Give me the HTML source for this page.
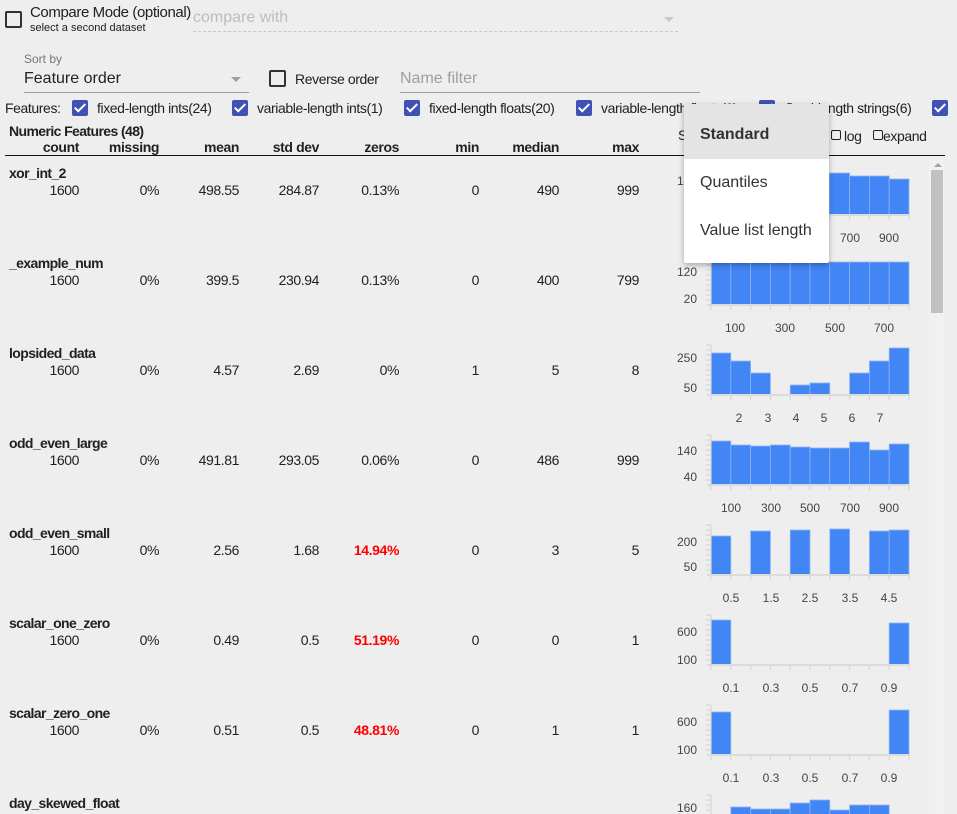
<!DOCTYPE html>
<html><head><meta charset="utf-8"><style>
body{margin:0;width:957px;height:814px;background:#eeeeee;overflow:hidden;position:relative;font-family:"Liberation Sans",sans-serif;color:#212121}
.a{position:absolute;white-space:nowrap}
.cb{position:absolute;width:16px;height:16px;border-radius:2px;background:#3f51b5}
.cb:after{content:"";position:absolute;left:5px;top:1px;width:4px;height:9px;border:solid #fff;border-width:0 2px 2px 0;transform:rotate(45deg)}
.ub{position:absolute;width:13px;height:13px;border:2px solid #333;border-radius:2px}
.f{font-size:14px;letter-spacing:-0.4px}
.h{font-size:14px;font-weight:bold;letter-spacing:-0.6px}
.v{position:absolute;font-size:14px;letter-spacing:-0.4px;text-align:right;width:70px;margin-top:1px}
.red{color:#f00;font-weight:bold}
</style></head><body>
<div class="ub" style="left:5px;top:11px"></div>
<div class="a" style="left:30px;top:4px;font-size:15px;letter-spacing:-0.4px">Compare Mode (optional)</div>
<div class="a" style="left:30px;top:22px;font-size:11px">select a second dataset</div>
<div class="a" style="left:193px;top:9px;font-size:16px;color:#bdbdbd">compare with</div>
<div class="a" style="left:193px;top:31px;width:485px;border-top:1px dashed #c8c8c8"></div>
<div class="a" style="left:664px;top:17px;border:5px solid transparent;border-top-color:#c8c8c8"></div>
<div class="a" style="left:24px;top:52px;font-size:12px;color:#757575">Sort by</div>
<div class="a" style="left:24px;top:70px;font-size:16px">Feature order</div>
<div class="a" style="left:24px;top:92px;width:225px;border-top:1px solid #9e9e9e"></div>
<div class="a" style="left:231px;top:77px;border:5px solid transparent;border-top-color:#9e9e9e"></div>
<div class="ub" style="left:269px;top:70px"></div>
<div class="a f" style="left:295px;top:71px">Reverse order</div>
<div class="a" style="left:400px;top:70px;font-size:16px;color:#9e9e9e">Name filter</div>
<div class="a" style="left:400px;top:92px;width:300px;border-top:1px solid #9e9e9e"></div>
<div class="a f" style="left:5px;top:100px">Features:</div>
<div class="cb" style="left:72px;top:100px"></div><div class="a f" style="left:97px;top:100px">fixed-length ints(24)</div>
<div class="cb" style="left:232px;top:100px"></div><div class="a f" style="left:257px;top:100px">variable-length ints(1)</div>
<div class="cb" style="left:404px;top:100px"></div><div class="a f" style="left:429px;top:100px">fixed-length floats(20)</div>
<div class="cb" style="left:576px;top:100px"></div><div class="a f" style="left:601px;top:100px">variable-length floats(3)</div>
<div class="cb" style="left:759px;top:100px"></div><div class="a f" style="left:786px;top:100px">fixed-length strings(6)</div>
<div class="cb" style="left:932px;top:100px"></div>
<div class="a h" style="left:9px;top:123px">Numeric Features (48)</div>
<div class="v h" style="left:9px;top:138px">count</div>
<div class="v h" style="left:89px;top:138px">missing</div>
<div class="v h" style="left:169px;top:138px">mean</div>
<div class="v h" style="left:249px;top:138px">std dev</div>
<div class="v h" style="left:329px;top:138px">zeros</div>
<div class="v h" style="left:409px;top:138px">min</div>
<div class="v h" style="left:489px;top:138px">median</div>
<div class="v h" style="left:569px;top:138px">max</div>
<div class="a f" style="left:678px;top:127px">S</div>
<div class="a" style="left:831px;top:130px;width:8px;height:8px;border:1.5px solid #222;border-radius:2px"></div>
<div class="a f" style="left:844px;top:128px">log</div>
<div class="a" style="left:873px;top:130px;width:8px;height:8px;border:1.5px solid #222;border-radius:2px"></div>
<div class="a f" style="left:883px;top:128px">expand</div>
<div class="a" style="left:5px;top:155px;width:940px;border-top:1.5px solid #111"></div>

<div class="a h" style="left:9px;top:165px">xor_int_2</div>
<div class="v" style="left:9px;top:181px">1600</div><div class="v" style="left:89px;top:181px">0%</div><div class="v" style="left:169px;top:181px">498.55</div><div class="v" style="left:249px;top:181px">284.87</div><div class="v" style="left:329px;top:181px">0.13%</div><div class="v" style="left:409px;top:181px">0</div><div class="v" style="left:489px;top:181px">490</div><div class="v" style="left:569px;top:181px">999</div>
<div class="a h" style="left:9px;top:255px">_example_num</div>
<div class="v" style="left:9px;top:271px">1600</div><div class="v" style="left:89px;top:271px">0%</div><div class="v" style="left:169px;top:271px">399.5</div><div class="v" style="left:249px;top:271px">230.94</div><div class="v" style="left:329px;top:271px">0.13%</div><div class="v" style="left:409px;top:271px">0</div><div class="v" style="left:489px;top:271px">400</div><div class="v" style="left:569px;top:271px">799</div>
<div class="a h" style="left:9px;top:345px">lopsided_data</div>
<div class="v" style="left:9px;top:361px">1600</div><div class="v" style="left:89px;top:361px">0%</div><div class="v" style="left:169px;top:361px">4.57</div><div class="v" style="left:249px;top:361px">2.69</div><div class="v" style="left:329px;top:361px">0%</div><div class="v" style="left:409px;top:361px">1</div><div class="v" style="left:489px;top:361px">5</div><div class="v" style="left:569px;top:361px">8</div>
<div class="a h" style="left:9px;top:435px">odd_even_large</div>
<div class="v" style="left:9px;top:451px">1600</div><div class="v" style="left:89px;top:451px">0%</div><div class="v" style="left:169px;top:451px">491.81</div><div class="v" style="left:249px;top:451px">293.05</div><div class="v" style="left:329px;top:451px">0.06%</div><div class="v" style="left:409px;top:451px">0</div><div class="v" style="left:489px;top:451px">486</div><div class="v" style="left:569px;top:451px">999</div>
<div class="a h" style="left:9px;top:525px">odd_even_small</div>
<div class="v" style="left:9px;top:541px">1600</div><div class="v" style="left:89px;top:541px">0%</div><div class="v" style="left:169px;top:541px">2.56</div><div class="v" style="left:249px;top:541px">1.68</div><div class="v red" style="left:329px;top:541px">14.94%</div><div class="v" style="left:409px;top:541px">0</div><div class="v" style="left:489px;top:541px">3</div><div class="v" style="left:569px;top:541px">5</div>
<div class="a h" style="left:9px;top:615px">scalar_one_zero</div>
<div class="v" style="left:9px;top:631px">1600</div><div class="v" style="left:89px;top:631px">0%</div><div class="v" style="left:169px;top:631px">0.49</div><div class="v" style="left:249px;top:631px">0.5</div><div class="v red" style="left:329px;top:631px">51.19%</div><div class="v" style="left:409px;top:631px">0</div><div class="v" style="left:489px;top:631px">0</div><div class="v" style="left:569px;top:631px">1</div>
<div class="a h" style="left:9px;top:705px">scalar_zero_one</div>
<div class="v" style="left:9px;top:721px">1600</div><div class="v" style="left:89px;top:721px">0%</div><div class="v" style="left:169px;top:721px">0.51</div><div class="v" style="left:249px;top:721px">0.5</div><div class="v red" style="left:329px;top:721px">48.81%</div><div class="v" style="left:409px;top:721px">0</div><div class="v" style="left:489px;top:721px">1</div><div class="v" style="left:569px;top:721px">1</div>
<div class="a h" style="left:9px;top:795px">day_skewed_float</div>

<svg class="a" style="left:0;top:0" width="957" height="814" font-family="Liberation Sans, sans-serif" font-size="12" fill="#444">
<defs>
<g id="ax">
<path d="M707 0H910" stroke="#dcdcdc" stroke-width="2"/>
<path d="M711 0V-50M706 -50H711M706 -45H711M706 -40H711M706 -35H711M706 -30H711M706 -25H711M706 -20H711M706 -15H711M706 -10H711M706 -5H711M711 0V5M730.8 0V5M750.6 0V5M770.4 0V5M790.2 0V5M810 0V5M829.8 0V5M849.6 0V5M869.4 0V5M889.2 0V5M909 0V5" stroke="#d6d6d6" stroke-width="1.2" fill="none"/>
</g>
</defs>
<g fill="#4285f4" stroke="#8fb4f5" stroke-width="0.8">
<rect x="711" y="174" width="19.8" height="41"/><rect x="730.8" y="175" width="19.8" height="40"/><rect x="750.6" y="176" width="19.8" height="39"/><rect x="770.4" y="175" width="19.8" height="40"/><rect x="790.2" y="176" width="19.8" height="39"/><rect x="810" y="174" width="19.8" height="41"/><rect x="829.8" y="173" width="19.8" height="42"/><rect x="849.6" y="176" width="19.8" height="39"/><rect x="869.4" y="176" width="19.8" height="39"/><rect x="889.2" y="179" width="19.8" height="36"/>
<rect x="711" y="262" width="19.8" height="43"/><rect x="730.8" y="262" width="19.8" height="43"/><rect x="750.6" y="262" width="19.8" height="43"/><rect x="770.4" y="262" width="19.8" height="43"/><rect x="790.2" y="262" width="19.8" height="43"/><rect x="810" y="262" width="19.8" height="43"/><rect x="829.8" y="262" width="19.8" height="43"/><rect x="849.6" y="262" width="19.8" height="43"/><rect x="869.4" y="262" width="19.8" height="43"/><rect x="889.2" y="262" width="19.8" height="43"/>
<rect x="711" y="353" width="19.8" height="42"/><rect x="730.8" y="361" width="19.8" height="34"/><rect x="750.6" y="373" width="19.8" height="22"/><rect x="790.2" y="385" width="19.8" height="10"/><rect x="810" y="383" width="19.8" height="12"/><rect x="849.6" y="373" width="19.8" height="22"/><rect x="869.4" y="361" width="19.8" height="34"/><rect x="889.2" y="348" width="19.8" height="47"/>
<rect x="711" y="441" width="19.8" height="44"/><rect x="730.8" y="445" width="19.8" height="40"/><rect x="750.6" y="446" width="19.8" height="39"/><rect x="770.4" y="445" width="19.8" height="40"/><rect x="790.2" y="447" width="19.8" height="38"/><rect x="810" y="448" width="19.8" height="37"/><rect x="829.8" y="448" width="19.8" height="37"/><rect x="849.6" y="442" width="19.8" height="43"/><rect x="869.4" y="450" width="19.8" height="35"/><rect x="889.2" y="444" width="19.8" height="41"/>
<rect x="711" y="536" width="19.8" height="39"/><rect x="750.6" y="531" width="19.8" height="44"/><rect x="790.2" y="530" width="19.8" height="45"/><rect x="829.8" y="529" width="19.8" height="46"/><rect x="869.4" y="531" width="19.8" height="44"/><rect x="889.2" y="530" width="19.8" height="45"/>
<rect x="711" y="620" width="19.8" height="45"/><rect x="889.2" y="623" width="19.8" height="42"/>
<rect x="711" y="712" width="19.8" height="43"/><rect x="889.2" y="710" width="19.8" height="45"/>
<rect x="730.8" y="807" width="19.8" height="38"/><rect x="750.6" y="809" width="19.8" height="36"/><rect x="770.4" y="809" width="19.8" height="36"/><rect x="790.2" y="803" width="19.8" height="42"/><rect x="810" y="800" width="19.8" height="45"/><rect x="829.8" y="810" width="19.8" height="35"/><rect x="849.6" y="805" width="19.8" height="40"/><rect x="869.4" y="805" width="19.8" height="40"/>
</g>
<use href="#ax" y="215"/><use href="#ax" y="305"/><use href="#ax" y="395"/><use href="#ax" y="485"/><use href="#ax" y="575"/><use href="#ax" y="665"/><use href="#ax" y="755"/><use href="#ax" y="845"/>
<g text-anchor="end">
<text x="697" y="185">140</text><text x="697" y="212">40</text>
<text x="697" y="276">120</text><text x="697" y="303">20</text>
<text x="697" y="362">250</text><text x="697" y="392">50</text>
<text x="697" y="455">140</text><text x="697" y="481">40</text>
<text x="697" y="546">200</text><text x="697" y="571">50</text>
<text x="697" y="636">600</text><text x="697" y="664">100</text>
<text x="697" y="726">600</text><text x="697" y="754">100</text>
<text x="697" y="812">160</text>
</g>
<g text-anchor="middle">
<text x="731" y="242">100</text><text x="771" y="242">300</text><text x="810" y="242">500</text><text x="850" y="242">700</text><text x="889" y="242">900</text>
<text x="735" y="332">100</text><text x="785" y="332">300</text><text x="835" y="332">500</text><text x="884" y="332">700</text>
<text x="739" y="422">2</text><text x="768" y="422">3</text><text x="796" y="422">4</text><text x="824" y="422">5</text><text x="852" y="422">6</text><text x="880" y="422">7</text>
<text x="731" y="512">100</text><text x="771" y="512">300</text><text x="810" y="512">500</text><text x="850" y="512">700</text><text x="889" y="512">900</text>
<text x="731" y="602">0.5</text><text x="771" y="602">1.5</text><text x="810" y="602">2.5</text><text x="850" y="602">3.5</text><text x="889" y="602">4.5</text>
<text x="731" y="692">0.1</text><text x="771" y="692">0.3</text><text x="810" y="692">0.5</text><text x="850" y="692">0.7</text><text x="889" y="692">0.9</text>
<text x="731" y="782">0.1</text><text x="771" y="782">0.3</text><text x="810" y="782">0.5</text><text x="850" y="782">0.7</text><text x="889" y="782">0.9</text>
</g>
<rect x="929" y="160" width="16" height="654" fill="#f1f1f1"/>
<path d="M934 167L938 163L942 167Z" fill="#a3a3a3"/>
<rect x="931" y="170" width="12" height="143" fill="#c1c1c1"/>
</svg>

<div class="a" style="left:684px;top:104px;width:145px;height:159px;background:#fff;box-shadow:0 2px 6px rgba(0,0,0,.3);border-radius:2px">
<div style="height:55px;background:#e4e4e4"></div>
<div class="a" style="left:16px;top:22px;font-size:16px;font-weight:bold;color:#333">Standard</div>
<div class="a" style="left:16px;top:70px;font-size:16px;color:#333">Quantiles</div>
<div class="a" style="left:16px;top:118px;font-size:16px;color:#333">Value list length</div>
</div>
</body></html>
